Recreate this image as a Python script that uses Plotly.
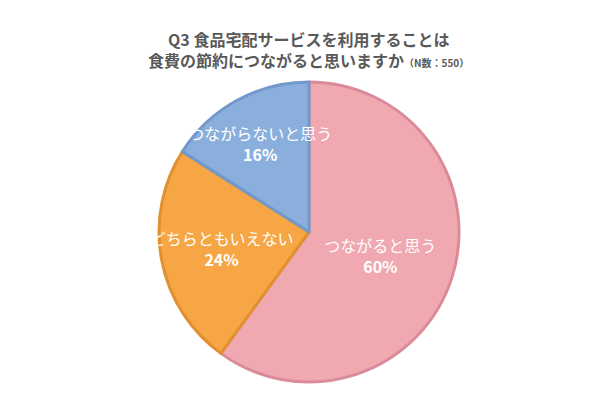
import plotly.graph_objects as go

labels = ["つながると思う", "どちらともいえない", "つながらないと思う"]
values = [60, 24, 16]
fill_colors = ["#F0A8B1", "#F6A645", "#8BAFDC"]
line_colors = ["#D98C98", "#E2902F", "#7199CB"]

title_line1 = "Q3 食品宅配サービスを利用することは"
title_line2 = "食費の節約につながると思いますか"
title_note = "（N数：550）"

fig = go.Figure(go.Pie(
    labels=labels,
    values=values,
    sort=False,
    direction="clockwise",
    rotation=0,
    marker=dict(colors=fill_colors, line=dict(color=line_colors, width=3)),
    texttemplate="%{label}<br><b>%{value}%</b>",
    textposition="inside",
    insidetextorientation="horizontal",
    textfont=dict(family="Noto Sans CJK JP", size=16, color="white"),
    hoverinfo="label+percent",
    showlegend=False,
    domain=dict(x=[0.2517, 0.7517], y=[0.065, 0.815]),
))

fig.update_layout(
    width=600, height=400,
    margin=dict(l=0, r=0, t=0, b=0),
    paper_bgcolor="white",
    plot_bgcolor="white",
    uniformtext=dict(mode="show", minsize=16),
    annotations=[
        dict(text=f"<b>{title_line1}</b>", x=0.5, y=1 - 31/400, xref="paper", yref="paper",
             showarrow=False, font=dict(family="Noto Sans CJK JP", size=16, color="#595959"),
             xanchor="center", yanchor="middle"),
        dict(text=f"<b>{title_line2}</b><span style='font-size:10px'><b>{title_note}</b></span>",
             x=0.5, y=1 - 52/400, xref="paper", yref="paper",
             showarrow=False, font=dict(family="Noto Sans CJK JP", size=16, color="#595959"),
             xanchor="center", yanchor="middle"),
    ],
)

fig.write_html("out.html")
